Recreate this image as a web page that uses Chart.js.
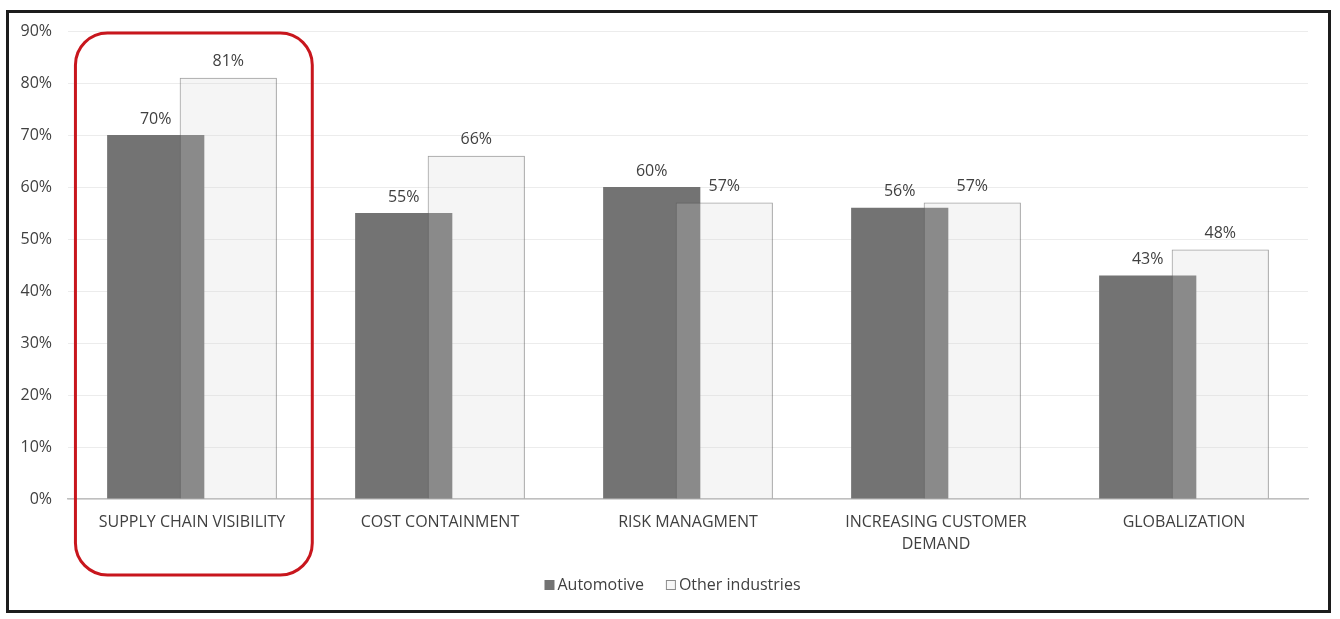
<!DOCTYPE html>
<html>
<head>
<meta charset="utf-8">
<script src="https://cdn.jsdelivr.net/npm/chart.js@4"></script>
<style>
  body { margin: 0; background: #fff; }
  #frame {
    position: absolute; left: 6px; top: 10px;
    width: 1319px; height: 597px;
    border: 3px solid #1c1c1c;
  }
</style>
</head>
<body>
<div id="frame"><canvas id="chart" width="1319" height="597"></canvas></div>
<script>
var categories = [
    "SUPPLY CHAIN VISIBILITY",
    "COST CONTAINMENT",
    "RISK MANAGMENT",
    ["INCREASING CUSTOMER", "DEMAND"],
    "GLOBALIZATION"
];
var automotive = [70, 55, 60, 56, 43];
var otherIndustries = [81, 66, 57, 57, 48];
var yTicks = [0, 10, 20, 30, 40, 50, 60, 70, 80, 90];

var textColor = "#404040";
var fontFamily = "'Open Sans', sans-serif";

// the "Other industries" bars overlap the automotive ones, so draw them last
var drawOnTop = {
    id: 'drawOnTop',
    beforeDatasetDraw: function (chart, args) {
        if (args.index === 1) return false;
    },
    afterDatasetsDraw: function (chart) {
        var ctx = chart.ctx;
        var a = chart.chartArea;
        ctx.save();
        ctx.beginPath();
        ctx.rect(a.left, a.top - 2, a.right - a.left, a.bottom - a.top + 2);
        ctx.clip();
        chart.getDatasetMeta(1).controller.draw();
        ctx.restore();
    }
};

// value labels above each bar
var valueLabels = {
    id: 'valueLabels',
    afterDatasetsDraw: function (chart) {
        var ctx = chart.ctx;
        ctx.save();
        ctx.fillStyle = textColor;
        ctx.font = "16px " + fontFamily;
        ctx.textAlign = "center";
        ctx.textBaseline = "bottom";
        chart.data.datasets.forEach(function (ds, i) {
            chart.getDatasetMeta(i).data.forEach(function (bar, j) {
                ctx.fillText(ds.data[j] + "%", bar.x, bar.y - 8);
            });
        });
        ctx.restore();
    }
};

// compact legend (box, small gap, text) like the original
var smallLegend = {
    id: 'smallLegend',
    afterDraw: function (chart) {
        var ctx = chart.ctx;
        var box = 10, gapText = 3, gapItem = 22;
        var y = chart.chartArea.bottom + 86;
        ctx.save();
        ctx.font = "16px " + fontFamily;
        ctx.textBaseline = "middle";
        var items = chart.data.datasets.map(function (ds) {
            return { text: ds.label, w: ctx.measureText(ds.label).width, ds: ds };
        });
        var total = 0;
        items.forEach(function (it, i) {
            total += box + gapText + it.w + (i ? gapItem : 0);
        });
        var x = chart.width / 2 + 4 - total / 2;
        items.forEach(function (it, i) {
            if (i) x += gapItem;
            if (i === 0) {
                ctx.fillStyle = it.ds.backgroundColor;
                ctx.fillRect(x, y - box / 2, box, box);
            } else {
                ctx.fillStyle = "#f7f7f7";
                ctx.fillRect(x, y - box / 2, box, box);
                ctx.strokeStyle = "#8c8c8c";
                ctx.lineWidth = 1;
                ctx.strokeRect(x + 0.5, y - box / 2 + 0.5, box - 1, box - 1);
            }
            x += box + gapText;
            ctx.fillStyle = textColor;
            ctx.fillText(it.text, x, y);
            x += it.w;
        });
        ctx.restore();
    }
};

// red rounded box around the first category
var highlight = {
    id: 'highlight',
    afterDraw: function (chart) {
        var x = chart.scales.x;
        var area = chart.chartArea;
        var cw = x.getPixelForValue(1) - x.getPixelForValue(0);
        var left = x.getPixelForValue(0) - cw * 0.47;
        var right = x.getPixelForValue(0) + cw * 0.485;
        var top = area.top + 2;
        var bottom = area.bottom + 76;
        var ctx = chart.ctx;
        ctx.save();
        ctx.strokeStyle = "#c8161d";
        ctx.lineWidth = 3;
        ctx.beginPath();
        ctx.roundRect(left, top, right - left, bottom - top, 32);
        ctx.stroke();
        ctx.restore();
    }
};

var ctx = document.getElementById("chart").getContext('2d');
var chart = new Chart(ctx, {
    type: 'bar',
    data: {
        labels: categories,
        datasets: [
            {
                label: "Automotive",
                data: automotive,
                backgroundColor: "#737373",
                borderWidth: 0,
                categoryPercentage: 0.585,
                barPercentage: 1.34
            },
            {
                label: "Other industries",
                data: otherIndustries,
                backgroundColor: "rgba(213,213,213,0.24)",
                borderColor: "rgba(90,90,90,0.6)",
                borderWidth: 1,
                categoryPercentage: 0.585,
                barPercentage: 1.34
            }
        ]
    },
    options: {
        responsive: false,
        animation: false,
        layout: { padding: { top: 18, right: 20, bottom: 42, left: 0 } },
        plugins: {
            legend: { display: false },
            tooltip: { enabled: false }
        },
        scales: {
            x: {
                grid: { display: false, drawTicks: false },
                border: { color: "#bfbfbf", width: 1.5 },
                ticks: {
                    color: textColor,
                    padding: 12,
                    maxRotation: 0,
                    autoSkip: false,
                    font: { family: fontFamily, size: 16, lineHeight: 1.4 }
                },
                afterFit: function (scale) { scale.height = 69; }
            },
            y: {
                min: 0,
                max: 90,
                afterBuildTicks: function (scale) {
                    scale.ticks = yTicks.map(function (v) { return { value: v }; });
                },
                grid: { color: "#ececec", lineWidth: 1, drawTicks: false },
                border: { display: false },
                ticks: {
                    color: textColor,
                    padding: 16,
                    font: { family: fontFamily, size: 16 },
                    callback: function (v) { return v + "%"; }
                },
                afterFit: function (scale) {
                    scale.width = 59;
                    scale.paddingTop = 0;
                    scale.paddingBottom = 0;
                }
            }
        }
    },
    plugins: [drawOnTop, valueLabels, smallLegend, highlight]
});
</script>
</body>
</html>
